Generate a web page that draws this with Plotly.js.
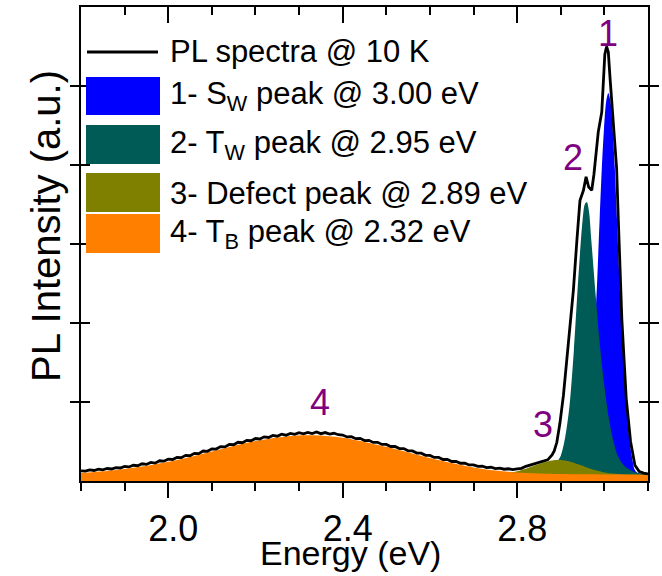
<!DOCTYPE html>
<html><head><meta charset="utf-8">
<script src="https://cdn.plot.ly/plotly-3.0.1.min.js"></script>
<style>html,body{margin:0;padding:0;background:#fff}#chart{width:662px;height:576px}</style>
</head><body><div id="chart"></div>
<script>
// ---- data (energy in eV, intensity in arbitrary units) ----
const blackE = [
1.80,1.81,1.82,1.83,1.84,1.85,1.86,1.87,1.88,1.89,
1.90,1.91,1.92,1.93,1.94,1.95,1.96,1.97,1.98,1.99,
2.00,2.01,2.02,2.03,2.04,2.05,2.06,2.07,2.08,2.09,
2.10,2.11,2.12,2.13,2.14,2.15,2.16,2.17,2.18,2.19,
2.20,2.21,2.22,2.23,2.24,2.25,2.26,2.27,2.28,2.29,
2.30,2.31,2.32,2.33,2.34,2.35,2.36,2.37,2.38,2.39,
2.40,2.41,2.42,2.43,2.44,2.45,2.46,2.47,2.48,2.49,
2.50,2.51,2.52,2.53,2.54,2.55,2.56,2.57,2.58,2.59,
2.60,2.61,2.62,2.63,2.64,2.65,2.66,2.67,2.68,2.69,
2.70,2.71,2.72,2.73,2.74,2.75,2.76,2.77,2.78,2.79,
2.80,2.81,2.82,2.83,2.84,2.85,2.86,2.87,
2.880,2.885,2.891,2.898,2.906,2.914,2.921,2.929,2.937,2.944,
2.952,2.958,2.964,2.971,2.976,2.982,2.986,2.994,2.998,3.001,
3.005,3.009,3.013,3.017,3.023,3.028,3.032,3.040,3.050,3.060,
3.070,3.080,3.090,3.100];
const blackI = [
0.128,0.124,0.140,0.133,0.149,0.142,0.158,0.152,0.170,0.165,
0.185,0.178,0.199,0.193,0.218,0.210,0.236,0.226,0.256,0.251,
0.277,0.272,0.298,0.296,0.325,0.320,0.350,0.347,0.380,0.376,
0.407,0.404,0.435,0.432,0.463,0.459,0.490,0.484,0.515,0.510,
0.538,0.532,0.559,0.551,0.577,0.567,0.592,0.580,0.603,0.590,
0.612,0.598,0.616,0.601,0.620,0.599,0.613,0.594,0.604,0.586,
0.582,0.558,0.561,0.536,0.540,0.512,0.515,0.488,0.490,0.463,
0.463,0.437,0.437,0.410,0.410,0.382,0.381,0.353,0.352,0.325,
0.324,0.298,0.298,0.272,0.272,0.247,0.248,0.225,0.226,0.203,
0.205,0.185,0.188,0.170,0.174,0.157,0.163,0.149,0.155,0.145,
0.154,0.160,0.186,0.202,0.226,0.233,0.255,0.268,
0.33,0.38,0.49,0.73,1.08,1.57,2.00,2.42,3.05,3.55,
3.68,3.85,3.72,3.68,3.88,4.25,4.42,4.67,5.15,5.40,
5.50,5.43,5.10,4.80,4.38,3.96,3.30,2.05,1.05,0.50,
0.20,0.12,0.10,0.09];

// peak 1 (S_W)
const peak1E = [2.919,2.934,2.944,2.949,2.954,2.959,2.964,2.969,2.974,2.979,2.984,2.989,2.994,2.999,3.004,
                3.009,3.014,3.019,3.024,3.029,3.034,3.039,3.044,3.049,3.054,3.059,3.064,3.069,3.074,3.084,3.099];
const peak1I = [0.080,0.085,0.11,0.15,0.28,0.45,0.70,1.05,1.45,2.00,2.60,3.30,3.95,4.45,4.80,
                4.91,4.80,4.45,3.95,3.30,2.60,2.00,1.45,1.05,0.70,0.45,0.28,0.15,0.11,0.085,0.080];
// peak 2 (T_W)
const peak2E = [2.80,2.84,2.86,2.88,2.89,2.90,2.91,2.92,2.93,2.94,2.95,2.955,2.96,2.965,2.97,
                2.98,2.99,3.00,3.01,3.02,3.03,3.04,3.05,3.07,3.09,3.10];
const peak2I = [0.08,0.09,0.11,0.17,0.23,0.32,0.55,0.95,1.65,2.55,3.30,3.50,3.53,3.40,3.05,
                2.35,1.70,1.20,0.80,0.52,0.33,0.23,0.17,0.11,0.09,0.08];
// peak 3 (defect)
const peak3E = [2.70,2.74,2.76,2.78,2.80,2.82,2.84,2.86,2.88,2.90,2.92,2.94,2.96,2.98,3.00,3.02,3.04,3.06,3.08,3.10];
const peak3I = [0.080,0.084,0.090,0.102,0.124,0.156,0.195,0.234,0.260,0.265,0.247,0.211,0.171,0.135,0.109,0.094,0.086,0.082,0.080,0.080];
// peak 4 (T_B)
const peak4E = [1.80,1.85,1.90,1.95,2.00,2.05,2.10,2.15,2.20,2.25,2.30,2.35,2.40,2.45,2.50,
                2.55,2.60,2.65,2.70,2.75,2.80,2.85,2.90,2.95,3.00,3.05,3.10];
const peak4I = [0.100,0.122,0.152,0.192,0.243,0.305,0.374,0.444,0.506,0.552,0.577,0.575,0.546,0.495,0.432,
                0.362,0.292,0.228,0.172,0.132,0.108,0.095,0.088,0.084,0.082,0.081,0.080];

const legendLabels = ['PL spectra @ 10 K','1- S<sub>W</sub> peak @ 3.00 eV','2- T<sub>W</sub> peak @ 2.95 eV',
                      '3- Defect peak @ 2.89 eV','4- T<sub>B</sub> peak @ 2.32 eV'];
const peakNames = ['1','2','3','4'];
const xTickVals = [2.0, 2.4, 2.8];
const xTickText = ['2.0','2.4','2.8'];
const xMinorVals = [1.8,1.9,2.1,2.2,2.3,2.5,2.6,2.7,2.9,3.0,3.1];
const xTitle = 'Energy (eV)';
const yTitle = 'PL Intensity (a.u.)';

// ---- styles ----
const C_BLUE = '#0000FF', C_GREEN = '#005A55', C_OLIVE = '#808000', C_ORANGE = '#FF8000', C_PURPLE = '#800080';
const FONT = 'Liberation Sans, Arial, sans-serif';

const fillTrace = (x, y, color) => ({
  x: x, y: y, type: 'scatter', mode: 'lines', fill: 'tozeroy', fillcolor: color,
  line: {width: 0, color: color, shape: 'spline', smoothing: 0.8}, hoverinfo: 'skip', showlegend: false
});

const traces = [
  fillTrace(peak1E, peak1I, C_BLUE),
  fillTrace(peak2E, peak2I, C_GREEN),
  fillTrace(peak3E, peak3I, C_OLIVE),
  fillTrace(peak4E, peak4I, C_ORANGE),
  {x: blackE, y: blackI, type: 'scatter', mode: 'lines', line: {color: '#000', width: 2.8}, showlegend: false, hoverinfo: 'skip'},
  {x: blackE, y: blackI, xaxis: 'x2', type: 'scatter', mode: 'lines', line: {width: 0}, opacity: 0, showlegend: false, hoverinfo: 'skip'}
];

// custom legend (pixel layout converted to paper coords)
const L = 81, R = 648, T = 7, B = 481;
const px = v => (v - L) / (R - L);
const py = v => (B - v) / (B - T);
const boxColors = [C_BLUE, C_GREEN, C_OLIVE, C_ORANGE];
const boxTop = [77, 125, 173, 214];
const boxBot = [115, 164, 212, 253];
const rowY = [52, 96, 145, 193, 234];

const shapes = [{type: 'line', xref: 'paper', yref: 'paper', x0: px(87), x1: px(158), y0: py(52), y1: py(52),
                 line: {color: '#000', width: 2.8}}];
boxColors.forEach((c, i) => shapes.push({type: 'rect', xref: 'paper', yref: 'paper',
  x0: px(86), x1: px(160), y0: py(boxBot[i]), y1: py(boxTop[i]), fillcolor: c, line: {width: 0}}));

const annotations = legendLabels.map((t, i) => ({
  text: t, xref: 'paper', yref: 'paper', x: px(168), y: py(rowY[i]), xanchor: 'left', yanchor: 'middle',
  showarrow: false, font: {family: FONT, size: 31, color: '#000'}
}));
const peakPos = [[3.008, 5.67], [2.928, 4.09], [2.859, 0.71], [2.348, 0.99]];
peakNames.forEach((t, i) => annotations.push({
  text: t, x: peakPos[i][0], y: peakPos[i][1], xref: 'x', yref: 'y', showarrow: false,
  xanchor: 'center', yanchor: 'middle', font: {family: FONT, size: 36, color: C_PURPLE}
}));
// axis titles
annotations.push({text: xTitle, xref: 'paper', yref: 'paper', x: px(350), y: py(553), xanchor: 'center', yanchor: 'middle',
  showarrow: false, font: {family: FONT, size: 34, color: '#000'}});
annotations.push({text: yTitle, xref: 'paper', yref: 'paper', x: px(46), y: py(226), xanchor: 'center', yanchor: 'middle',
  textangle: -90, showarrow: false, font: {family: FONT, size: 40, color: '#000'}});

const layout = {
  width: 662, height: 576,
  margin: {l: L, r: 662 - R, t: T, b: 576 - B, pad: 0},
  paper_bgcolor: '#fff', plot_bgcolor: '#fff',
  font: {family: FONT, color: '#000'},
  showlegend: false,
  xaxis: {
    range: [1.8, 3.1], tickmode: 'array', tickvals: xTickVals, ticktext: xTickText,
    ticks: 'outside', ticklen: 15, tickwidth: 2, tickcolor: '#000',
    showline: true, linewidth: 2, linecolor: '#000', mirror: false, showgrid: false, zeroline: false,
    tickfont: {family: FONT, size: 36}, ticklabelshift: 5, ticklabelstandoff: 0,
    minor: {tickmode: 'array', tickvals: xMinorVals, ticks: 'outside', ticklen: 8, tickwidth: 2, tickcolor: '#000', showgrid: false}
  },
  xaxis2: {
    overlaying: 'x', matches: 'x', side: 'top', anchor: 'y',
    tickmode: 'array', tickvals: xTickVals, ticks: 'inside', ticklen: 16, tickwidth: 2, tickcolor: '#000',
    showticklabels: false, showline: true, linewidth: 2, linecolor: '#000', showgrid: false, zeroline: false,
    minor: {tickmode: 'array', tickvals: xMinorVals, ticks: 'inside', ticklen: 8, tickwidth: 2, tickcolor: '#000', showgrid: false}
  },
  yaxis: {
    range: [0, 6], dtick: 1, tick0: 0, ticks: 'inside', ticklen: 9, tickwidth: 2, tickcolor: '#000',
    showticklabels: false, showline: true, linewidth: 2, linecolor: '#000', mirror: 'allticks',
    showgrid: false, zeroline: false
  },
  shapes: shapes,
  annotations: annotations
};

Plotly.newPlot('chart', traces, layout, {staticPlot: true, displayModeBar: false});
</script></body></html>
